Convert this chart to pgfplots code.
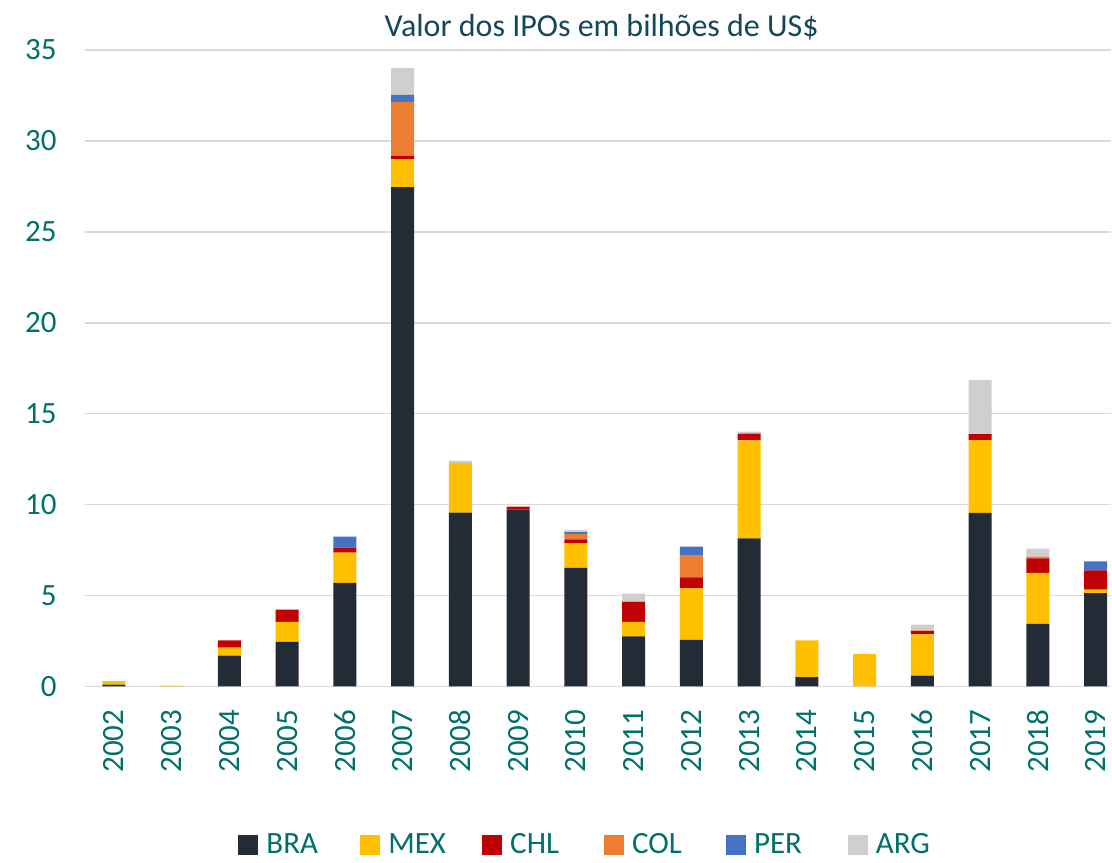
\documentclass[border=0pt]{standalone}
\usepackage{pgfplots}
\usepackage{pgfplotstable}
\pgfplotsset{compat=1.18}
\usepackage{fontspec}
\setmainfont{Carlito}
\definecolor{cBRA}{HTML}{232B36}
\definecolor{cMEX}{HTML}{FFC000}
\definecolor{cCHL}{HTML}{C00000}
\definecolor{cCOL}{HTML}{ED7D31}
\definecolor{cPER}{HTML}{4472C4}
\definecolor{cARG}{HTML}{D0CECE}
\definecolor{tickc}{HTML}{00706B}
\definecolor{ttl}{HTML}{15475A}
\definecolor{gridc}{HTML}{D9D9D9}
\pgfplotstableread{
x  BRA   MEX   CHL   COL   PER   ARG
0  0.10  0.20  0     0     0     0
1  0     0.05  0     0     0     0
2  1.70  0.44  0.39  0     0     0
3  2.46  1.10  0.67  0     0     0
4  5.70  1.66  0.28  0     0.60  0
5  27.46 1.54  0.19  2.95  0.39  1.47
6  9.56  2.74  0     0     0     0.12
7  9.73  0     0.16  0     0     0
8  6.52  1.35  0.22  0.29  0.11  0.11
9  2.76  0.79  1.10  0.02  0     0.43
10 2.56  2.84  0.60  1.23  0.46  0
11 8.15  5.38  0.38  0     0     0.11
12 0.51  2.02  0     0     0     0
13 0     1.80  0     0     0     0
14 0.60  2.26  0.18  0.05  0     0.31
15 9.55  4.00  0.33  0     0     2.98
16 3.45  2.80  0.80  0.09  0     0.44
17 5.13  0.20  1.06  0     0.49  0
}\datatable
\begin{document}
\begin{tikzpicture}
\begin{axis}[
  scale only axis,
  width=513.5pt, height=318.5pt,
  ybar stacked, bar width=11.5pt,
  xmin=-0.5, xmax=17.27,
  ymin=0, ymax=35,
  ytick={0,5,...,35},
  xtick={0,...,17},
  xticklabels={2002,2003,2004,2005,2006,2007,2008,2009,2010,2011,2012,2013,2014,2015,2016,2017,2018,2019},
  axis line style={draw=none},
  major tick length=0pt,
  ymajorgrids, xmajorgrids=false,
  grid style={draw=gridc, line width=0.8pt},
  /pgf/number format/assume math mode=true,
  ticklabel style={font=\fontsize{15.5}{18}\selectfont, text=tickc},
  xticklabel style={rotate=90, anchor=east, inner sep=0pt},
  xticklabel shift=11.5pt,
  yticklabel style={anchor=east, inner sep=0pt, xshift=-14pt},
  title={Valor dos IPOs em bilhões de US\$},
  title style={font=\fontsize{16}{19}\selectfont, text=ttl, at={(0.5035,1)}, anchor=south, inner sep=0pt, yshift=-1pt},
  legend columns=6,
  legend style={at={(0.503,-0.249)}, anchor=center, draw=none, font=\fontsize{15.5}{18}\selectfont, text=tickc,
    nodes={text width=43pt, inner sep=1pt, anchor=west}, column sep=3pt},
  legend image code/.code={\fill[#1] (0pt,-5pt) rectangle (10pt,5pt);},
  clip=false,
]
\addplot[fill=cBRA, draw=none] table[x=x, y=BRA] {\datatable};
\addplot[fill=cMEX, draw=none] table[x=x, y=MEX] {\datatable};
\addplot[fill=cCHL, draw=none] table[x=x, y=CHL] {\datatable};
\addplot[fill=cCOL, draw=none] table[x=x, y=COL] {\datatable};
\addplot[fill=cPER, draw=none] table[x=x, y=PER] {\datatable};
\addplot[fill=cARG, draw=none] table[x=x, y=ARG] {\datatable};
\legend{BRA,MEX,CHL,COL,PER,ARG}
\draw[gridc, line width=0.8pt] (rel axis cs:0,0) -- (rel axis cs:1,0);
\path (rel axis cs:-0.0828,1.0785) rectangle (rel axis cs:1,-0.2622);
\end{axis}
\end{tikzpicture}
\end{document}
